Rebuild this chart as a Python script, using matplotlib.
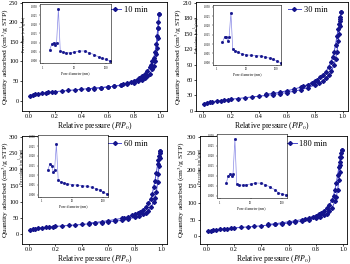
import numpy as np
import matplotlib
matplotlib.use('Agg')
import matplotlib.pyplot as plt

plt.rcParams['font.family'] = ['Liberation Serif', 'DejaVu Serif']
plt.rcParams['mathtext.fontset'] = 'stix'

# Isotermas N2 (P/P0)
p_ads = [0.01, 0.03, 0.05, 0.07, 0.1, 0.13, 0.15, 0.18, 0.2, 0.25, 0.3, 0.35, 0.4, 0.45,
         0.5, 0.55, 0.6, 0.65, 0.7, 0.75, 0.8, 0.83, 0.86, 0.88, 0.9, 0.92, 0.94, 0.95,
         0.96, 0.97, 0.975, 0.98, 0.985, 0.99]
p_des = [0.99, 0.985, 0.98, 0.975, 0.97, 0.96, 0.95, 0.94, 0.93, 0.92, 0.9, 0.88, 0.86,
         0.84, 0.82, 0.8, 0.78, 0.75, 0.72, 0.7, 0.65, 0.6, 0.55, 0.5, 0.45]

ads_10 = [13, 15, 16.5, 17.5, 19, 20, 21, 22, 23, 24.5, 26, 27.5, 29, 30.5, 32, 33.5, 35, 37,
          39, 42, 46, 49, 53, 57, 62, 69, 80, 88, 100, 118, 135, 160, 185, 220]
des_10 = [220, 200, 185, 165, 145, 125, 110, 100, 92, 85, 75, 68, 62, 58, 54, 51, 48, 45, 42,
          40, 37, 35, 33, 31, 30]
ads_30 = [14, 16, 17, 18, 19, 20, 21, 22, 22.5, 24, 25.5, 27, 28.5, 30, 31.5, 33.5, 35.5, 38,
          41, 45, 50, 54, 58, 63, 69, 77, 90, 100, 115, 135, 150, 165, 178, 193]
des_30 = [193, 183, 175, 168, 160, 145, 128, 115, 105, 96, 85, 76, 70, 65, 61, 58, 55, 51, 48,
          46, 42, 39, 36, 34, 32]
ads_60 = [14, 16, 17.5, 18.5, 20, 21, 22, 23, 24, 25.5, 27, 28.5, 30, 32, 34, 36, 38, 40, 43,
          47, 52, 56, 61, 66, 73, 83, 100, 112, 130, 160, 185, 210, 235, 258]
des_60 = [258, 250, 240, 230, 215, 190, 165, 145, 125, 110, 95, 83, 75, 69, 65, 61, 58, 54, 51,
          49, 45, 42, 39, 36, 34]
ads_180 = [14, 16.5, 18, 19, 20.5, 21.5, 22.5, 23.5, 24.5, 26, 27.5, 29, 31, 33, 35, 37, 39, 42,
           45, 49, 54, 58, 63, 68, 75, 86, 105, 118, 140, 170, 195, 215, 240, 260]
des_180 = [260, 252, 240, 225, 210, 185, 160, 140, 122, 108, 95, 84, 76, 70, 66, 62, 59, 55, 52,
           50, 46, 43, 40, 37, 35]

# Distribución de poros (BJH)
d_poro = [1.63, 1.92, 2.17, 2.45, 2.7, 3.1, 3.55, 4.3, 5.5, 7, 10, 14, 21, 30, 43, 61, 78, 100, 138]
v_10 = [0.0058, 0.0094, 0.0100, 0.0088, 0.0096, 0.0284, 0.0054, 0.0048, 0.0044, 0.0044, 0.0048,
        0.0054, 0.0054, 0.0044, 0.0034, 0.0020, 0.0014, 0.0008, 0.0000]
v_30 = [0.0110, 0.0140, 0.0140, 0.0114, 0.0138, 0.0268, 0.0075, 0.0065, 0.0055, 0.0048, 0.0042,
        0.0040, 0.0038, 0.0036, 0.0030, 0.0024, 0.0018, 0.0010, 0.0000]
v_60 = [0.0125, 0.0160, 0.0150, 0.0118, 0.0125, 0.0262, 0.0075, 0.0066, 0.0060, 0.0056, 0.0052,
        0.0049, 0.0046, 0.0043, 0.0038, 0.0030, 0.0022, 0.0014, 0.0002]
v_180 = [0.0063, 0.0100, 0.0106, 0.0096, 0.0106, 0.0283, 0.0058, 0.0054, 0.0052, 0.0054, 0.0058,
         0.0063, 0.0062, 0.0055, 0.0042, 0.0029, 0.0015, 0.0008, 0.0003]

paneles = [
    ('10 min', ads_10, des_10, v_10, [0.063, 0.580, 0.414, 0.413], [0.114, 0.761, 0.203, 0.223],
     (-26, 252), np.arange(0, 251, 50), (-0.05, 1.05), -0.079),
    ('30 min', ads_30, des_30, v_30, [0.560, 0.580, 0.433, 0.413], [0.609, 0.754, 0.195, 0.227],
     (0, 212), np.arange(0, 211, 30), (-0.047, 1.036), -0.079),
    ('60 min', ads_60, des_60, v_60, [0.063, 0.076, 0.414, 0.409], [0.109, 0.254, 0.200, 0.236],
     (-30, 303), np.arange(0, 301, 50), (-0.05, 1.04), -0.079),
    ('180 min', ads_180, des_180, v_180, [0.571, 0.076, 0.421, 0.409], [0.619, 0.250, 0.200, 0.244],
     (-24, 303), np.arange(0, 301, 50), (-0.05, 1.03), -0.085),
]

c_line = '#4b4bd0'
c_mark = '#14148c'

fig = plt.figure(figsize=(3.5, 2.64), dpi=100)
for nombre, ads, des, vol, pos, pos_in, ylim, yt, xlim, ylab_x in paneles:
    ax = fig.add_axes(pos)
    ax.plot(p_ads, ads, color=c_line, lw=0.7, marker='D', ms=2.0, mfc=c_mark, mec=c_mark,
            label=nombre)
    ax.plot(p_des, des, color=c_line, lw=0.7, marker='D', ms=2.0, mfc=c_mark, mec=c_mark)
    ax.set_xlim(xlim)
    ax.set_ylim(ylim)
    ax.set_yticks(yt)
    ax.set_xticks([0.0, 0.2, 0.4, 0.6, 0.8, 1.0])
    ax.set_xticklabels(['0.0', '0.2', '0.4', '0.6', '0.8', '1.0'])
    ax.tick_params(labelsize=4.5, length=1.5, width=0.5, pad=1, direction='out')
    for s in ax.spines.values():
        s.set_linewidth(0.6)
    ax.set_xlabel('Relative pressure ($P/P_0$)', fontsize=5.5)
    ax.xaxis.set_label_coords(0.5, -0.088)
    ax.set_ylabel('Quantity adsorbed (cm$^3$/g STP)', fontsize=5.4)
    ax.yaxis.set_label_coords(ylab_x, 0.5)
    ax.legend(loc='upper right', bbox_to_anchor=(0.9, 1.01), frameon=False, fontsize=6,
              handlelength=1.6, handletextpad=0.3, borderaxespad=0.2)

    axi = fig.add_axes(pos_in)
    axi.plot(d_poro, vol, color='#8a8ae6', lw=0.5, marker='s', ms=1.0, mfc=c_mark, mec=c_mark)
    axi.set_xscale('log')
    axi.set_xlim(0.8, 145)
    axi.set_ylim(-0.0012, 0.031)
    axi.set_yticks([0.000, 0.005, 0.010, 0.015, 0.020, 0.025, 0.030])
    axi.set_yticklabels(['0.000', '0.005', '0.010', '0.015', '0.020', '0.025', '0.030'])
    axi.set_xticks([1, 10, 100])
    axi.set_xticklabels(['1', '10', '100'])
    axi.minorticks_off()
    axi.tick_params(labelsize=2.2, length=1, width=0.3, pad=0.8)
    for s in axi.spines.values():
        s.set_linewidth(0.4)
    axi.set_xlabel('Pore diameter (nm)', fontsize=2.6, labelpad=0.8)
    axi.set_ylabel('Pore volume (cm$^3$/g/nm)', fontsize=2.6, labelpad=0.8)

fig.savefig('out.png', dpi=100)
